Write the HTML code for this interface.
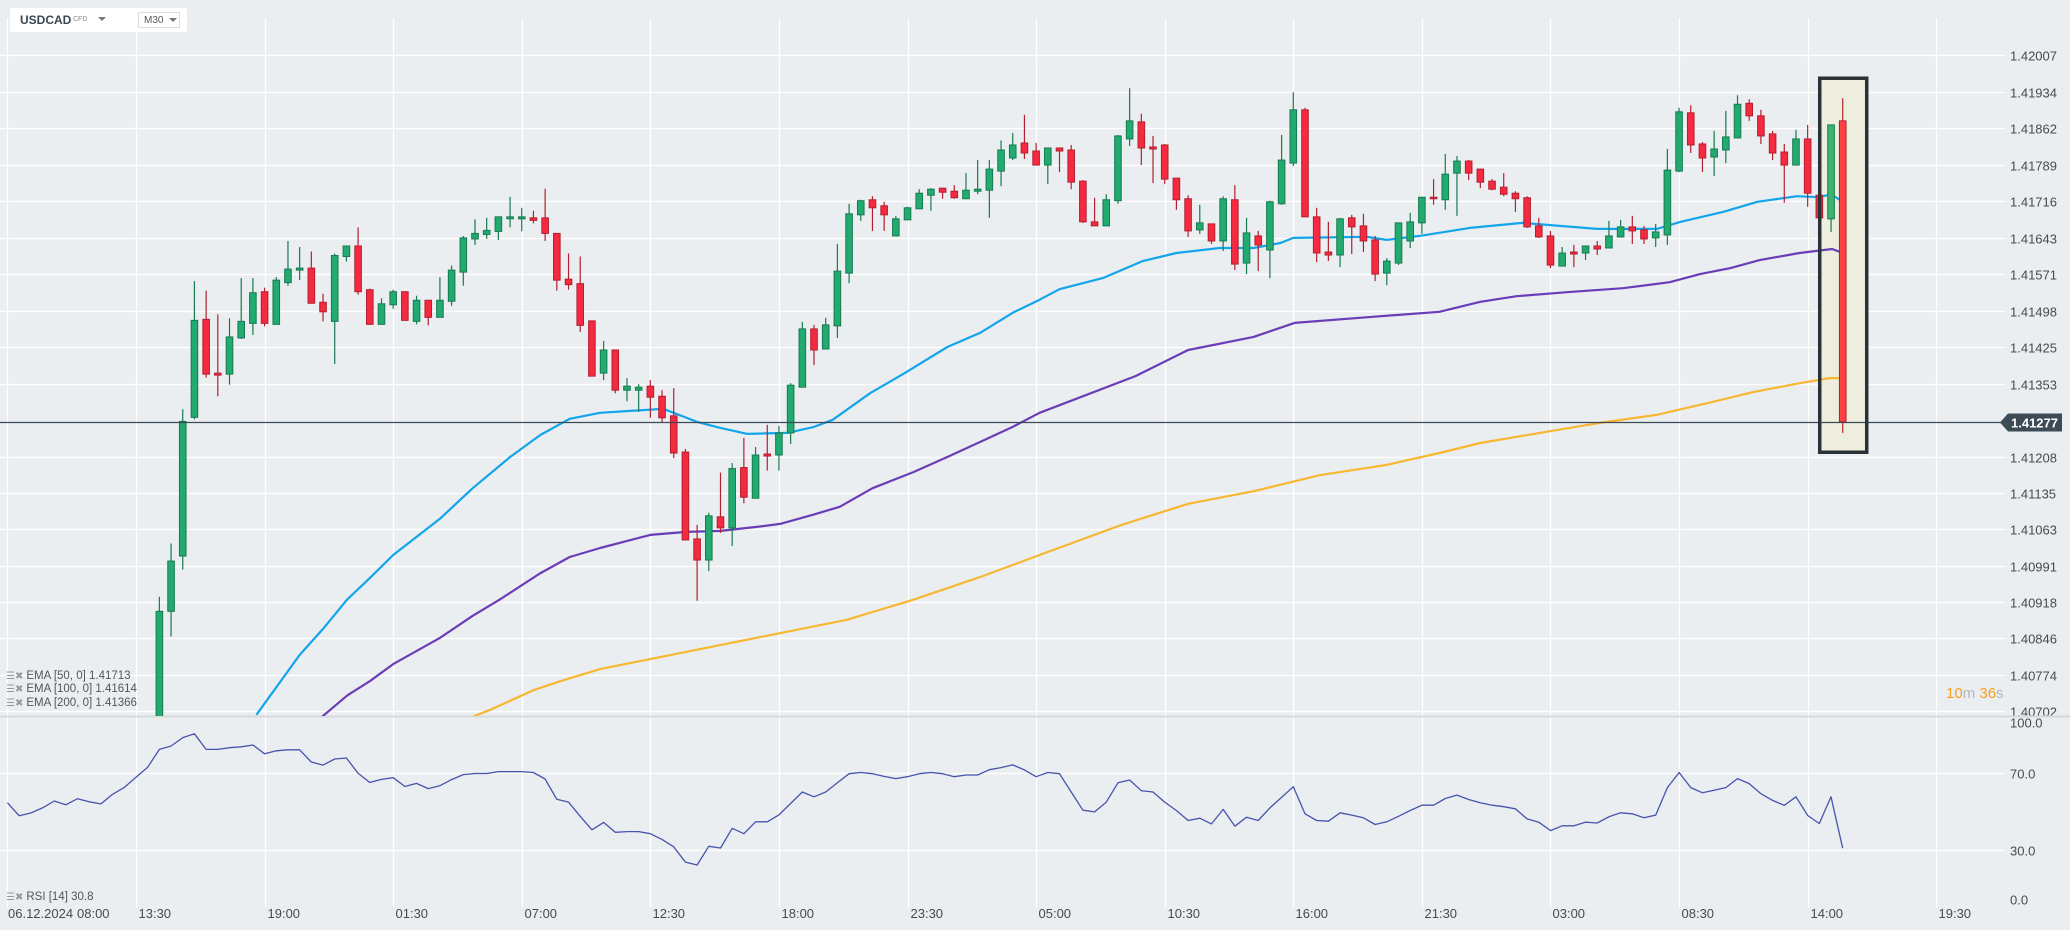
<!DOCTYPE html>
<html><head><meta charset="utf-8">
<style>
html,body{margin:0;padding:0;background:#ebeef1;}
body{width:2070px;height:930px;overflow:hidden;position:relative;font-family:"Liberation Sans",sans-serif;}
svg{position:absolute;left:0;top:0;}
#hdr{position:absolute;left:10px;top:8px;width:177px;height:24px;background:#fff;border-radius:2px;}
#hdr .sym{position:absolute;left:10px;top:5px;font-size:12px;font-weight:bold;color:#3a4650;}
#hdr .cfd{position:absolute;left:63px;top:8px;font-size:7px;color:#888;}
#hdr .dd1{position:absolute;left:88px;top:9px;width:0;height:0;border-left:4px solid transparent;border-right:4px solid transparent;border-top:4px solid #777;}
#hdr .tf{position:absolute;left:128px;top:4px;width:42px;height:16px;border:1px solid #ddd;font-size:10px;color:#555;box-sizing:border-box;padding:2px 0 0 5px;}
#hdr .dd2{position:absolute;left:30px;top:5px;width:0;height:0;border-left:4px solid transparent;border-right:4px solid transparent;border-top:4px solid #777;}
.leg{position:absolute;left:6px;font-size:11.5px;color:#555;white-space:nowrap;}
.leg b{font-weight:normal;color:#999;font-size:10px;margin-right:3px;}
#timer{position:absolute;left:1946px;top:685px;font-size:15px;color:#f6a01a;}
#timer span{color:#b5b8bb;}
</style></head>
<body>
<svg id="chart" width="2070" height="930"></svg>
<div id="hdr">
  <span class="sym">USDCAD</span>
  <span class="cfd">CFD</span>
  <span class="dd1"></span>
  <span class="tf">M30<span class="dd2"></span></span>
</div>
<div class="leg" style="top:670px"><b>☰✖</b>EMA [50, 0] 1.41713</div>
<div class="leg" style="top:683px"><b>☰✖</b>EMA [100, 0] 1.41614</div>
<div class="leg" style="top:697px"><b>☰✖</b>EMA [200, 0] 1.41366</div>
<div class="leg" style="top:891px"><b>☰✖</b>RSI [14] 30.8</div>
<div id="timer">10<span>m</span> 36<span>s</span></div>
<script>
const priceTicks=[1.42007,1.41934,1.41862,1.41789,1.41716,1.41643,1.41571,1.41498,1.41425,1.41353,1.41208,1.41135,1.41063,1.40991,1.40918,1.40846,1.40774,1.40702];
const rsiTicks=[100,70,30,0];
const rsiTickLabels=["100.0","70.0","30.0","0.0"];
const timeLabels=["08:00","13:30","19:00","01:30","07:00","12:30","18:00","23:30","05:00","10:30","16:00","21:30","03:00","08:30","14:00","19:30"];
const firstCandle=13;
const O=[1.40537,1.40900,1.41010,1.41286,1.41481,1.41374,1.41372,1.41444,1.41473,1.41536,1.41471,1.41554,1.41579,1.41583,1.41515,1.41477,1.41606,1.41627,1.41540,1.41471,1.41510,1.41536,1.41477,1.41519,1.41485,1.41517,1.41575,1.41641,1.41650,1.41656,1.41681,1.41681,1.41683,1.41683,1.41652,1.41561,1.41552,1.41478,1.41374,1.41420,1.41340,1.41340,1.41348,1.41328,1.41289,1.41217,1.41044,1.41002,1.41088,1.41066,1.41186,1.41125,1.41213,1.41211,1.41255,1.41346,1.41462,1.41422,1.41468,1.41573,1.41689,1.41719,1.41707,1.41647,1.41679,1.41701,1.41728,1.41742,1.41736,1.41721,1.41736,1.41738,1.41776,1.41802,1.41832,1.41816,1.41788,1.41822,1.41818,1.41756,1.41675,1.41667,1.41717,1.41840,1.41874,1.41824,1.41828,1.41762,1.41721,1.41659,1.41671,1.41637,1.41719,1.41593,1.41647,1.41619,1.41711,1.41792,1.41898,1.41685,1.41615,1.41609,1.41683,1.41667,1.41639,1.41573,1.41593,1.41637,1.41673,1.41724,1.41719,1.41772,1.41796,1.41780,1.41756,1.41744,1.41732,1.41723,1.41667,1.41647,1.41587,1.41615,1.41613,1.41627,1.41623,1.41645,1.41665,1.41659,1.41643,1.41649,1.41776,1.41892,1.41830,1.41804,1.41818,1.41842,1.41911,1.41886,1.41850,1.41814,1.41788,1.41840,1.41728,1.41681,1.41876];
const H=[1.40929,1.41035,1.41302,1.41557,1.41538,1.41491,1.41483,1.41563,1.41563,1.41544,1.41565,1.41637,1.41625,1.41616,1.41532,1.41612,1.41627,1.41664,1.41542,1.41523,1.41540,1.41536,1.41528,1.41519,1.41565,1.41588,1.41647,1.41680,1.41683,1.41685,1.41725,1.41703,1.41697,1.41741,1.41652,1.41612,1.41606,1.41478,1.41438,1.41420,1.41364,1.41352,1.41360,1.41340,1.41344,1.41223,1.41072,1.41096,1.41176,1.41195,1.41245,1.41227,1.41271,1.41269,1.41354,1.41476,1.41470,1.41484,1.41631,1.41711,1.41719,1.41726,1.41715,1.41687,1.41705,1.41740,1.41742,1.41742,1.41748,1.41772,1.41798,1.41798,1.41837,1.41852,1.41888,1.41832,1.41822,1.41822,1.41828,1.41758,1.41723,1.41730,1.41848,1.41941,1.41890,1.41846,1.41830,1.41762,1.41728,1.41709,1.41671,1.41726,1.41748,1.41683,1.41657,1.41717,1.41848,1.41933,1.41902,1.41703,1.41675,1.41683,1.41689,1.41691,1.41647,1.41603,1.41673,1.41693,1.41724,1.41760,1.41810,1.41806,1.41798,1.41780,1.41760,1.41772,1.41736,1.41726,1.41683,1.41657,1.41625,1.41629,1.41627,1.41637,1.41677,1.41679,1.41687,1.41667,1.41671,1.41820,1.41902,1.41907,1.41834,1.41856,1.41896,1.41927,1.41919,1.41898,1.41856,1.41830,1.41858,1.41868,1.41728,1.41868,1.41921];
const L=[1.40497,1.40850,1.40983,1.41282,1.41365,1.41328,1.41351,1.41442,1.41450,1.41467,1.41471,1.41548,1.41559,1.41513,1.41477,1.41392,1.41596,1.41530,1.41471,1.41471,1.41502,1.41479,1.41471,1.41469,1.41485,1.41508,1.41548,1.41629,1.41641,1.41639,1.41664,1.41656,1.41672,1.41637,1.41538,1.41540,1.41456,1.41368,1.41360,1.41334,1.41318,1.41297,1.41285,1.41275,1.41205,1.41042,1.40921,1.40980,1.41056,1.41030,1.41115,1.41125,1.41180,1.41180,1.41233,1.41346,1.41390,1.41422,1.41444,1.41553,1.41677,1.41657,1.41657,1.41647,1.41679,1.41701,1.41697,1.41721,1.41721,1.41721,1.41730,1.41683,1.41746,1.41798,1.41800,1.41788,1.41750,1.41774,1.41740,1.41673,1.41667,1.41667,1.41711,1.41826,1.41788,1.41752,1.41750,1.41699,1.41645,1.41651,1.41631,1.41617,1.41579,1.41571,1.41577,1.41563,1.41709,1.41786,1.41685,1.41595,1.41597,1.41585,1.41611,1.41615,1.41557,1.41549,1.41589,1.41623,1.41651,1.41709,1.41699,1.41687,1.41758,1.41742,1.41738,1.41726,1.41695,1.41663,1.41643,1.41583,1.41587,1.41585,1.41599,1.41609,1.41623,1.41645,1.41631,1.41631,1.41625,1.41629,1.41774,1.41812,1.41774,1.41766,1.41792,1.41842,1.41876,1.41830,1.41798,1.41713,1.41788,1.41705,1.41683,1.41655,1.41255];
const C=[1.40900,1.41000,1.41278,1.41479,1.41372,1.41370,1.41446,1.41477,1.41534,1.41473,1.41559,1.41581,1.41583,1.41513,1.41496,1.41608,1.41627,1.41536,1.41471,1.41512,1.41536,1.41479,1.41519,1.41485,1.41519,1.41579,1.41643,1.41652,1.41658,1.41685,1.41685,1.41685,1.41678,1.41652,1.41559,1.41550,1.41469,1.41368,1.41420,1.41340,1.41348,1.41346,1.41326,1.41285,1.41215,1.41042,1.41002,1.41090,1.41066,1.41184,1.41127,1.41211,1.41209,1.41255,1.41350,1.41462,1.41420,1.41470,1.41577,1.41691,1.41717,1.41703,1.41689,1.41681,1.41703,1.41732,1.41740,1.41734,1.41723,1.41738,1.41740,1.41780,1.41818,1.41828,1.41812,1.41788,1.41822,1.41816,1.41754,1.41675,1.41667,1.41719,1.41846,1.41876,1.41822,1.41820,1.41760,1.41719,1.41657,1.41673,1.41637,1.41721,1.41591,1.41653,1.41629,1.41715,1.41798,1.41898,1.41685,1.41613,1.41609,1.41681,1.41665,1.41637,1.41571,1.41597,1.41673,1.41675,1.41724,1.41721,1.41770,1.41796,1.41772,1.41754,1.41740,1.41730,1.41721,1.41665,1.41645,1.41589,1.41613,1.41611,1.41627,1.41621,1.41647,1.41665,1.41657,1.41641,1.41655,1.41778,1.41894,1.41828,1.41802,1.41820,1.41844,1.41909,1.41886,1.41846,1.41812,1.41788,1.41840,1.41732,1.41683,1.41868,1.41277];
const ema50Idx=[21.3,25,27,29.05,31,33,37,39.8,43,45.6,48.1,50.7,56.1,59,61,63.3,66.7,69,70.6,73.8,76.9,80.4,83.2,86,88.3,90,93.7,97.1,100,103.7,106.6,108.9,110,116.3,118,120.8,125.1,129.6,136,141.1,143.1,146.8,149.7,153.1,155,156,157];
const ema50Val=[1.40694,1.40813,1.40865,1.40923,1.40966,1.41012,1.41084,1.41145,1.41207,1.41251,1.41283,1.41295,1.41303,1.41277,1.41265,1.41253,1.41255,1.41267,1.41281,1.41334,1.41376,1.41426,1.41454,1.41494,1.41520,1.41541,1.41563,1.41597,1.41613,1.41623,1.41623,1.41633,1.41643,1.41645,1.41639,1.41647,1.41663,1.41673,1.41661,1.41661,1.41675,1.41695,1.41715,1.41726,1.41724,1.41730,1.41715];
const ema100Idx=[26.9,29.1,31,33,37,39.8,42.1,45.6,48.1,50.7,55,58.1,61,64.1,66.1,68.9,71.2,74,77.5,80.4,83.2,86,88.3,96.5,101,106.6,110.1,116.8,122.5,126,129.1,133.4,138.2,142.2,144.8,147.4,149.9,153.3,156.1,157];
const ema100Val=[1.40690,1.40733,1.40761,1.40795,1.40847,1.40891,1.40923,1.40976,1.41008,1.41026,1.41052,1.41058,1.41060,1.41068,1.41074,1.41092,1.41108,1.41145,1.41177,1.41207,1.41237,1.41267,1.41295,1.41368,1.41420,1.41446,1.41474,1.41486,1.41496,1.41516,1.41527,1.41535,1.41543,1.41555,1.41571,1.41583,1.41599,1.41613,1.41621,1.41613];
const ema200Idx=[39.8,41.5,45,47.3,50.7,71.8,77.5,80.4,83.2,88.3,95.3,101,106.6,112.3,117.9,122.5,126,133.1,136.2,141.1,145.9,149.3,153.3,155.9,157];
const ema200Val=[1.40690,1.40706,1.40743,1.40761,1.40785,1.40883,1.40923,1.40946,1.40968,1.41012,1.41072,1.41114,1.41139,1.41171,1.41191,1.41215,1.41235,1.41263,1.41275,1.41291,1.41317,1.41336,1.41354,1.41364,1.41364];
const rsiVals=[54.6,47.8,49.2,51.9,55.5,53.5,56.7,55.1,54.0,59.0,62.6,67.9,73.2,82.5,84.3,88.7,90.7,82.5,82.5,83.4,83.9,84.8,80.2,81.8,82.3,82.3,75.9,74.3,77.5,78.0,70.0,65.2,66.8,67.7,63.1,64.7,62.0,63.5,66.7,69.3,69.9,69.9,70.9,70.9,70.9,70.4,67.0,56.4,54.9,47.5,40.4,44.3,39.1,39.5,39.5,38.4,35.4,31.5,23.5,22.0,
31.8,30.9,41.2,38.4,44.6,44.6,48.2,54.2,60.2,57.7,60.2,65.1,69.8,70.4,69.8,68.4,67.2,68.2,69.8,70.4,69.8,68.2,69.1,69.1,71.9,73.0,74.4,71.8,68.2,70.4,69.8,60.2,50.7,49.8,54.9,65.1,66.5,60.9,60.2,54.9,50.5,45.3,46.5,43.5,51.1,42.3,47.0,45.3,51.9,
57.4,63.0,48.8,45.3,44.9,49.3,48.1,46.7,43.2,44.6,47.5,50.5,53.3,53.3,56.8,58.6,56.3,54.6,53.3,52.5,51.4,46.1,44.4,40.0,42.5,42.5,44.4,44.0,47.2,49.3,48.8,46.7,48.1,62.5,70.4,62.5,59.8,61.1,62.5,67.2,64.6,59.3,55.8,53.2,57.7,47.9,43.7,57.7,30.8];
const lastPrice=1.41277;

const NS="http://www.w3.org/2000/svg";
const svg=document.getElementById('chart');
const xOf=i=>7.4+11.69*i;
const yP=p=>(1.421165-p)/0.0000199;
const yR=v=>907-1.91*v;
function mk(tag,attrs,parent){const e=document.createElementNS(NS,tag);for(const k in attrs)e.setAttribute(k,attrs[k]);(parent||svg).appendChild(e);return e;}

const defs=mk('defs',{});
const cp=mk('clipPath',{id:'mainclip'},defs);
mk('rect',{x:0,y:14,width:1998,height:702},cp);

const grid=mk('g',{});


priceTicks.forEach((p,k)=>{
  const y=Math.round(yP(p))+0.5;
  const l=mk('line',{x1:0,x2:2005,y1:y,y2:y,stroke:'#ffffff','stroke-width':1.3},grid);
  
  
  const t=mk('text',{x:2010,y:y+5,'font-size':13,fill:'#4a4a4a','font-family':'Liberation Sans, sans-serif'});
  t.textContent=p.toFixed(5);
  
  
});
rsiTicks.forEach((v,k)=>{
  const y=Math.round(yR(v))+0.5;
  if(v>0&&v<100){const l=mk('line',{x1:0,x2:2005,y1:y,y2:y,stroke:'#ffffff','stroke-width':1.3},grid);
  
  }
  const t=mk('text',{x:2010,y:y+5+(v==100?6:0)+(v==0?-8:0),'font-size':13,fill:'#4a4a4a','font-family':'Liberation Sans, sans-serif'});
  t.textContent=rsiTickLabels[k];
  
  
});
timeLabels.forEach((s,k)=>{
  const x=Math.round(xOf(k*11))+0.5;
  const l=mk('line',{x1:x,x2:x,y1:18,y2:907,stroke:'#ffffff','stroke-width':1.3},grid);
  
  
  const t=mk('text',{x:(k==0?77:x+2),y:918,'font-size':13,fill:'#4a4a4a','font-family':'Liberation Sans, sans-serif'});
  t.textContent=s;
  
  
});
const dt=mk('text',{x:8,y:918,'font-size':13,fill:'#4a4a4a','font-family':'Liberation Sans, sans-serif'});
dt.textContent='06.12.2024';



const sep=mk('line',{x1:0,x2:2070,y1:716.5,y2:716.5,stroke:'#d6d9dc','stroke-width':2});



const lastI=firstCandle+C.length-1;
const hb=mk('rect',{x:xOf(lastI)-23,y:yP(H[H.length-1])-20,width:47,height:374,fill:'#eeeedf'});



const main=mk('g',{'clip-path':'url(#mainclip)'});



function emaLine(idx,vals,color,name){
  const pts=idx.map((v,k)=>xOf(v).toFixed(1)+','+yP(vals[k]).toFixed(1)).join(' ');
  const p=mk('polyline',{points:pts,fill:'none',stroke:color,'stroke-width':2.2,'stroke-linejoin':'round'},main);
  
  
}
emaLine(ema200Idx,ema200Val,'#f7b731','ema200-line');
emaLine(ema100Idx,ema100Val,'#6a3db8','ema100-line');
emaLine(ema50Idx,ema50Val,'#12a5ec','ema50-line');

const cpY=Math.round(yP(lastPrice))+0.5;
const pl=mk('line',{x1:0,x2:2005,y1:cpY,y2:cpY,stroke:'#3b4a54','stroke-width':1.2});



C.forEach((c,k)=>{
  const i=firstCandle+k, o=O[k], h=H[k], l=L[k];
  const up=c>=o;
  const last=k>=C.length-2;
  const fill=up?(last?'#3cb46e':'#22ab70'):(last?'#ff4242':'#f52a40');
  const edge=up?'#177a50':'#b31f30';
  const x=xOf(i);
  const g=mk('g',{},main);
  
  
  const w=mk('line',{x1:x,x2:x,y1:yP(h),y2:yP(l),stroke:edge,'stroke-width':1.2},g);
  
  
  const top=yP(Math.max(o,c)), bot=yP(Math.min(o,c));
  const b=mk('rect',{x:x-3.3,y:top,width:6.6,height:Math.max(1.5,bot-top),fill:fill,stroke:edge,'stroke-width':1},g);
  
  
});

const hbb=mk('rect',{x:xOf(lastI)-23,y:yP(H[H.length-1])-20,width:47,height:374,fill:'none',stroke:'#2a3238','stroke-width':3.5});



const bg=mk('g',{});


mk('path',{d:`M2000 ${cpY} L2008 ${cpY-9} L2062 ${cpY-9} L2062 ${cpY+9} L2008 ${cpY+9} Z`,fill:'#3d4b55'},bg);
const bt=mk('text',{x:2011,y:cpY+5,'font-size':13,'font-weight':'bold',fill:'#ffffff','font-family':'Liberation Sans, sans-serif'},bg);
bt.textContent=lastPrice.toFixed(5);

const rpts=rsiVals.map((v,i)=>xOf(i).toFixed(1)+','+yR(v).toFixed(1)).join(' ');
const rl=mk('polyline',{points:rpts,fill:'none',stroke:'#4654ad','stroke-width':1.3,'stroke-linejoin':'round'});


</script>
</body></html>
